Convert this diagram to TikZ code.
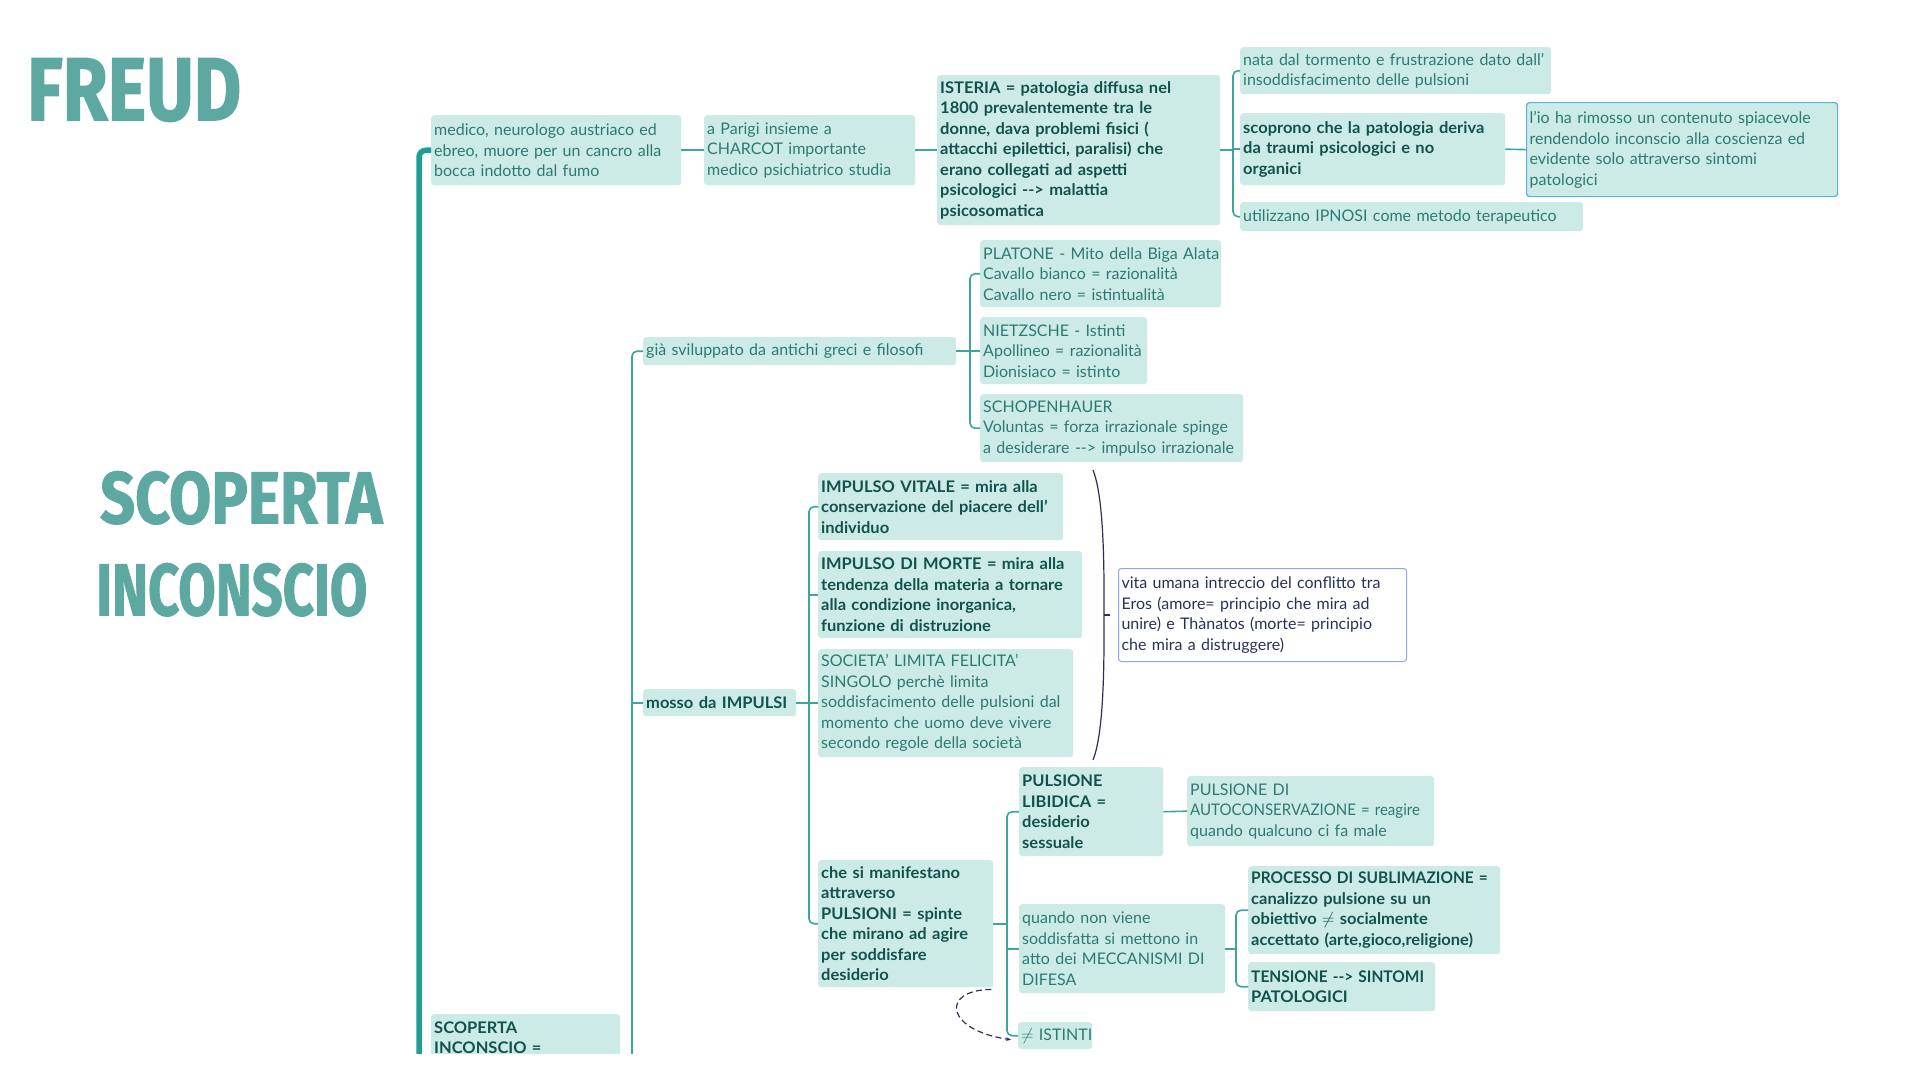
\documentclass[tikz,border=0pt]{standalone}
\usepackage{fontspec}
\usepackage{graphicx}
\setmainfont{Lato}[BoldFeatures={FakeStretch=1.03}]
\newfontfamily\frtitlefont{Fira Sans}[BoldFeatures={FakeBold=1.5}]
\usepackage{tikz}
\usetikzlibrary{arrows.meta,calc}
\definecolor{frfill}    {HTML}{CDEBE6}
\definecolor{frteal}    {HTML}{3AA69C}
\definecolor{frtrunk}   {HTML}{1E9E94}
\definecolor{frink}     {HTML}{2C7A72}
\definecolor{frinkbold} {HTML}{12524C}
\definecolor{frtitle}   {HTML}{5DA9A1}
\definecolor{frblue}    {HTML}{5AAFE3}
\definecolor{frlav}     {HTML}{8FA6E8}
\definecolor{frnavy}    {HTML}{2A3159}
\newcommand{\frfont}{\fontsize{16}{20.5}\selectfont}
\newcommand{\frarr}{\mbox{-}\mbox{-}>}
\newcommand{\frl}[1]{\mbox{#1}}
\newcommand{\frnarrow}[1]{\scalebox{0.94}[1]{#1}}
\tikzset{
  frbox/.style={fill=frfill, rounded corners=3pt, inner xsep=3pt, inner ysep=2pt,
                anchor=north west, align=left, font=\frfont, text=frink},
  frboldbox/.style={frbox, font=\frfont\bfseries, text=frinkbold},
  froutline/.style={frbox, draw=frblue, line width=1.2pt},
  frwhite/.style={frbox, fill=white, draw=frlav, line width=1pt, text=frnavy},
  frwh/.style 2 args={text width=#1pt, minimum height=#2pt},
  frline/.style={draw=frteal, line width=1.6pt, rounded corners=5pt},
  frtrunkline/.style={draw=frtrunk, line width=5.5pt, rounded corners=7pt},
  frhead/.style={text=frtitle, inner sep=0pt, anchor=north west},
  frbrace/.style={draw=frnavy, line width=1.2pt},
  frdash/.style={draw=frnavy, dash pattern=on 6pt off 3.5pt, line width=1.2pt,
                 -{Stealth[length=5pt]}},
}

\begin{document}
\begin{tikzpicture}[x=1pt,y=-1pt]
  \useasboundingbox (0,0) rectangle (1920,1080);
  \begin{scope}
  \clip (0,0) rectangle (1920,1053);

  % titles
  \node[frhead] (freud) at (27,58)
    {\resizebox{214pt}{62pt}{\frtitlefont\bfseries FREUD}};
  \node[frhead] (scop) at (100,471)
    {\resizebox{282pt}{52pt}{\frtitlefont\bfseries SCOPERTA}};
  \node[frhead] (incon) at (96,563)
    {\resizebox{271pt}{52pt}{\frtitlefont\bfseries INCONSCIO}};

  % first row
  \node[frbox,frwh={244}{70}] (medico) at (431,115)
    {\frl{medico, neurologo austriaco ed}\\\frl{ebreo, muore per un cancro alla}\\\frl{bocca indotto dal fumo}};
  \node[frbox,frwh={205}{70}] (parigi) at (704,115)
    {\frl{a Parigi insieme a}\\\frl{CHARCOT importante}\\\frl{medico psichiatrico studia}};
  \node[frboldbox,frwh={277}{150}] (isteria) at (937,75)
    {\frl{ISTERIA = patologia diffusa nel}\\\frl{1800 prevalentemente tra le}\\\frl{donne, dava problemi fisici (}\\\frl{attacchi epilettici, paralisi) che}\\\frl{erano collegati ad aspetti}\\\frl{psicologici \frarr{} malattia}\\\frl{psicosomatica}};
  \node[frbox,frwh={305}{47}] (nata) at (1240,47)
    {\frl{nata dal tormento e frustrazione dato dall'}\\\frl{insoddisfacimento delle pulsioni}};
  \node[frboldbox,frwh={259}{72}] (scoprono) at (1240,113)
    {\frl{scoprono che la patologia deriva}\\\frl{da traumi psicologici e no}\\\frl{organici}};
  \node[froutline,frwh={305}{94}] (lio) at (1526,102)
    {\frl{l'io ha rimosso un contenuto spiacevole}\\\frl{rendendolo inconscio alla coscienza ed}\\\frl{evidente solo attraverso sintomi}\\\frl{patologici}};
  \node[frbox,frwh={337}{29}] (utiliz) at (1240,202)
    {\frl{utilizzano IPNOSI come metodo terapeutico}};

  % philosophers
  \node[frbox,frwh={307}{28}] (gia) at (643,337)
    {\frl{già sviluppato da antichi greci e filosofi}};
  \node[frbox,frwh={235}{67}] (platone) at (980,240)
    {\frl{PLATONE - Mito della Biga Alata}\\\frl{Cavallo bianco = razionalità}\\\frl{Cavallo nero = istintualità}};
  \node[frbox,frwh={161}{67}] (nietz) at (980,317)
    {\frl{NIETZSCHE - Istinti}\\\frl{Apollineo = razionalità}\\\frl{Dionisiaco = istinto}};
  \node[frbox,frwh={257}{68}] (schop) at (980,394)
    {\frl{SCHOPENHAUER}\\\frl{Voluntas = forza irrazionale spinge}\\\frl{a desiderare \frarr{} impulso irrazionale}};

  % impulses
  \node[frboldbox,frwh={147}{27}] (mosso) at (643,689) {\frl{mosso da IMPULSI}};
  \node[frboldbox,frwh={239}{67}] (vitale) at (818,473)
    {\frl{IMPULSO VITALE = mira alla}\\\frl{conservazione del piacere dell'}\\\frl{individuo}};
  \node[frboldbox,frwh={258}{87}] (morte) at (818,551)
    {\frl{IMPULSO DI MORTE = mira alla}\\\frl{tendenza della materia a tornare}\\\frl{alla condizione inorganica,}\\\frl{funzione di distruzione}};
  \node[frbox,frwh={249}{108}] (societa) at (818,649)
    {\frl{SOCIETA' LIMITA FELICITA'}\\\frl{SINGOLO perchè limita}\\\frl{soddisfacimento delle pulsioni dal}\\\frl{momento che uomo deve vivere}\\\frl{secondo regole della società}};
  \node[frwhite,frwh={282}{93}] (vita) at (1118,568)
    {\frl{vita umana intreccio del conflitto tra}\\\frl{Eros (amore= principio che mira ad}\\\frl{unire) e Thànatos (morte= principio}\\\frl{che mira a distruggere)}};

  % pulsioni
  \node[frboldbox,frwh={169}{127}] (manif) at (818,860)
    {\frl{che si manifestano}\\\frl{attraverso}\\\frl{PULSIONI = spinte}\\\frl{che mirano ad agire}\\\frl{per soddisfare}\\\frl{desiderio}};
  \node[frboldbox,frwh={138}{89}] (libid) at (1019,767)
    {\frl{PULSIONE}\\\frl{LIBIDICA =}\\\frl{desiderio}\\\frl{sessuale}};
  \node[frbox,frwh={241}{70}] (autocons) at (1187,776)
    {\frl{PULSIONE DI}\\\frnarrow{AUTOCONSERVAZIONE = reagire}\\\frl{quando qualcuno ci fa male}};
  \node[frbox,frwh={200}{89}] (quando) at (1019,904)
    {\frl{quando non viene}\\\frl{soddisfatta si mettono in}\\\frl{atto dei MECCANISMI DI}\\\frl{DIFESA}};
  \node[frboldbox,frwh={246}{88}] (processo) at (1248,866)
    {\frnarrow{PROCESSO DI SUBLIMAZIONE =}\\\frl{canalizzo pulsione su un}\\\frl{obiettivo $\neq$ socialmente}\\\frl{accettato (arte,gioco,religione)}};
  \node[frboldbox,frwh={181}{49}] (tensione) at (1248,962)
    {\frnarrow{TENSIONE \frarr{} SINTOMI}\\\frl{PATOLOGICI}};
  \node[frbox,frwh={68}{27}] (istinti) at (1018,1022) {\frl{$\neq$ ISTINTI}};

  \node[frboldbox,frwh={183}{47}] (scopbox) at (431,1014)
    {\frl{SCOPERTA}\\\frl{INCONSCIO =}};

  % spines
  \coordinate (trunk) at (419,1070);
  \coordinate (gx) at (632,1070);
  \coordinate (isx) at (1233,0);
  \coordinate (phx) at (970,0);
  \coordinate (imx) at (809,0);
  \coordinate (mfx) at (1007,0);
  \coordinate (qx) at (1236,0);

  \draw[frtrunkline] (medico.west) -| (trunk);
  \draw[frline] (medico.east) -- (parigi.west);
  \draw[frline] (parigi.east) -- (isteria.west);

  \draw[frline] (isteria.east) -- (isteria.east -| isx);
  \draw[frline] (nata.west) -- (nata.west -| isx) -- (utiliz.west -| isx) -- (utiliz.west);
  \draw[frline] (scoprono.west -| isx) -- (scoprono.west);
  \draw[frline] (scoprono.east) -- (lio.west);

  \draw[frline] (gia.west) -| (gx);
  \draw[frline] (mosso.west -| gx) -- (mosso.west);

  \draw[frline] (gia.east) -- (gia.east -| phx);
  \draw[frline] (platone.west) -- (platone.west -| phx) -- (schop.west -| phx) -- (schop.west);
  \draw[frline] (nietz.west -| phx) -- (nietz.west);

  \draw[frline] (mosso.east) -- (mosso.east -| imx);
  \draw[frline] (vitale.west) -- (vitale.west -| imx) -- (manif.west -| imx) -- (manif.west);
  \draw[frline] (morte.west -| imx) -- (morte.west);
  \draw[frline] (societa.west -| imx) -- (societa.west);

  \draw[frline] (manif.east) -- (manif.east -| mfx);
  \draw[frline] (libid.west) -- (libid.west -| mfx) -- (istinti.west -| mfx) -- (istinti.west);
  \draw[frline] (quando.west -| mfx) -- (quando.west);
  \draw[frline] (libid.east) -- (autocons.west);

  \draw[frline] (quando.east) -- (quando.east -| qx);
  \draw[frline] (processo.west) -- (processo.west -| qx) -- (tensione.west -| qx) -- (tensione.west);

  % brace towards the eros/thanatos box
  \coordinate (brtop) at (1093,470);
  \coordinate (brtip) at (1104,615);
  \coordinate (brbot) at (1093,760);
  \draw[frbrace] (brtop) .. controls (1105,500) and (1104,580) .. (brtip)
    .. controls (1104,650) and (1105,730) .. (brbot);
  \draw[frbrace] (brtip) -- ++(6,0);

  \draw[frdash] ([xshift=-2pt,yshift=-2pt]manif.south east) .. controls (940,990) and (945,1030) .. ([xshift=-7pt,yshift=-4pt]istinti.west);
  \end{scope}
\end{tikzpicture}
\end{document}
